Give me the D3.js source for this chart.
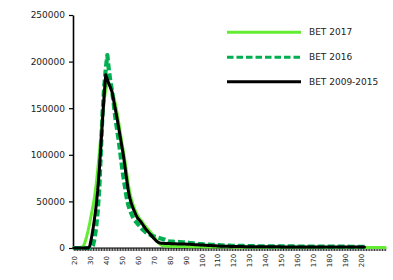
<!DOCTYPE html>
<html>
<head>
<meta charset="utf-8">
<script src="https://cdn.jsdelivr.net/npm/d3@7"></script>
<style>
html,body{margin:0;padding:0;background:#fff;}
svg{display:block;}
</style>
</head>
<body>
<svg id="chart" width="393" height="280"></svg>
<script>
// categories 20..215 (one per integer)
const categories = d3.range(20, 216);
const xTickLabels = [20,30,40,50,60,70,80,90,100,110,120,130,140,150,160,170,180,190,200];
const yTicks = [0,50000,100000,150000,200000,250000];
const seriesNames = ["BET 2017","BET 2016","BET 2009-2015"];

// BET 2017, categories 20..215
const bet2017 = [
  500,500,500,500,600,1000,2000,6000,12000,19000,
  27000,36000,45000,55000,68000,84000,102000,122000,142000,158000,
  170000,176000,177000,174000,168000,162000,155000,146000,136000,125000,
  114000,104000,94000,82000,70000,60000,53000,47000,42000,38000,
  35000,32000,30000,27500,25000,23000,21000,19000,17000,15000,
  12500,10000,7500,5500,4000,3000,2500,2200,2000,1900,
  1800,1800,1700,1700,1700,1600,1600,1600,1500,1500,
  1500,1500,1400,1400,1400,1400,1300,1300,1300,1300,
  1300,1200,1200,1200,1200,1200,1100,1100,1100,1100,
  1100,1100,1000,1000,1000,1000,1000,1000,1000,1000,
  900,900,900,900,900,900,900,900,900,900,
  900,900,900,900,900,800,800,800,800,800,
  800,800,800,800,800,800,800,800,800,800,
  800,800,800,800,800,700,700,700,700,700,
  700,700,700,700,700,700,700,700,700,700,
  700,700,700,700,700,600,600,600,600,600,
  600,600,600,600,600,600,600,600,600,600,
  600,600,600,600,600,500,500,500,500,500,
  500,500,500,500,500,500,500,500,500,500,
  500,500,500,500,500,500
];

// BET 2016, categories 20..202
const bet2016 = [
  0,0,0,0,0,0,0,0,0,0,
  0,0,3000,10000,22000,40000,65000,105000,145000,172000,
  192000,207000,190000,178000,168000,155000,140000,128000,117000,103000,
  90000,77000,66000,55000,47000,41000,37000,33000,30000,28000,
  26000,24000,22000,20000,18500,17000,16000,15000,14000,13000,
  12500,12000,11500,11000,10500,10000,9500,9000,8200,7500,
  7000,6900,6800,6700,6600,6500,6400,6300,6200,6100,
  6000,5800,5600,5400,5200,5000,4800,4600,4400,4300,
  4200,4000,3900,3800,3700,3600,3500,3400,3300,3200,
  3100,3000,2900,2800,2700,2600,2600,2500,2500,2400,
  2400,2300,2300,2300,2200,2200,2200,2100,2100,2100,
  2000,2000,2000,2000,2000,1900,1900,1900,1900,1900,
  1900,1900,1800,1800,1800,1800,1800,1800,1700,1700,
  1700,1700,1700,1700,1700,1700,1700,1700,1700,1700,
  1600,1600,1600,1600,1600,1600,1600,1600,1600,1600,
  1600,1600,1600,1500,1500,1500,1500,1500,1500,1500,
  1500,1500,1400,1400,1400,1400,1400,1400,1400,1400,
  1400,1400,1400,1300,1300,1300,1300,1300,1300,1300,
  1300,1300,1300
];

// BET 2009-2015, categories 20..202
const bet2009_2015 = [
  0,0,0,0,0,0,0,0,0,0,
  2000,10000,20000,32000,45000,62000,84000,110000,138000,164000,
  186000,181000,176000,172000,167000,158000,149000,140000,130000,120000,
  110000,100000,88000,75000,63000,54000,48000,43000,39000,35000,
  32000,30000,28000,25500,23000,20500,18500,16500,14500,12500,
  10500,8800,7200,6000,5400,5100,5000,4900,4800,4800,
  4700,4600,4600,4500,4500,4400,4400,4300,4300,4200,
  4200,4100,4000,3900,3800,3700,3600,3500,3400,3300,
  3200,3100,3000,2900,2800,2700,2600,2500,2400,2300,
  2200,2100,2000,2000,1900,1900,1800,1800,1700,1700,
  1600,1600,1600,1500,1500,1500,1500,1400,1400,1400,
  1400,1400,1300,1300,1300,1300,1300,1300,1300,1300,
  1300,1300,1300,1300,1300,1300,1300,1300,1300,1300,
  1200,1200,1200,1200,1200,1200,1200,1200,1200,1200,
  1200,1200,1200,1200,1200,1200,1200,1200,1200,1200,
  1200,1200,1200,1200,1200,1100,1100,1100,1100,1100,
  1100,1100,1100,1100,1100,1100,1100,1100,1100,1100,
  1100,1100,1100,1100,1100,1100,1100,1100,1100,1100,
  1100,1100,1100
];

const seriesData = [bet2017, bet2016, bet2009_2015];
const seriesColors = ["#62EC32", "#00B050", "#000000"];
const seriesWidths = [3, 4.2, 3];
const seriesDash = [null, "7,3", null];

const svg = d3.select("#chart");
const plotLeft = 73, plotRight = 386, plotTop = 15, plotBottom = 248;

const x = d3.scalePoint().domain(categories).range([plotLeft, plotRight]).padding(0.5);
const y = d3.scaleLinear().domain([0, 250000]).range([plotBottom, plotTop]);

// Y axis
const yAxis = d3.axisLeft(y).tickValues(yTicks).tickSize(4).tickSizeOuter(0).tickFormat(d3.format("d"));
const gy = svg.append("g").attr("transform", `translate(${plotLeft},0)`).call(yAxis);
gy.select(".domain").attr("stroke", "#000").attr("stroke-width", 1.6);
gy.selectAll(".tick line").attr("stroke", "#000").attr("stroke-width", 1.2);
gy.selectAll(".tick text").attr("font-family", "DejaVu Sans").attr("font-size", 9).attr("fill", "#222").attr("x", -8);

// X axis
const xAxis = d3.axisBottom(x).tickValues(categories).tickSize(3).tickSizeOuter(0).tickFormat(d => xTickLabels.includes(d) ? d : "");
const gx = svg.append("g").attr("transform", `translate(0,${plotBottom})`).call(xAxis);
gx.select(".domain").attr("stroke", "#000").attr("stroke-width", 1.2).attr("d", `M${plotLeft},0H${plotRight}`);
gx.selectAll(".tick line").attr("stroke", "#000").attr("stroke-width", 0.8);
gx.selectAll(".tick text")
  .attr("font-family", "DejaVu Sans").attr("font-size", 7).attr("fill", "#222")
  .attr("transform", "translate(0,12.5) rotate(-90)")
  .attr("x", 0).attr("y", 0).attr("dy", "0.35em")
  .attr("text-anchor", "middle");

// Lines
const line = d3.line().x(d => x(d[0])).y(d => y(d[1]));
seriesData.forEach((vals, i) => {
  const pts = vals.map((v, j) => [categories[j], v]);
  const p = svg.append("path").datum(pts)
    .attr("fill", "none")
    .attr("stroke", seriesColors[i])
    .attr("stroke-width", seriesWidths[i])
    .attr("stroke-linejoin", "round")
    .attr("d", line);
  if (seriesDash[i]) p.attr("stroke-dasharray", seriesDash[i]);
  else p.attr("stroke-linecap", "round");
});

// Legend
const legY = [32.3, 57.3, 81.7];
const leg = svg.append("g");
seriesNames.forEach((name, i) => {
  const l = leg.append("line")
    .attr("x1", 227).attr("x2", 301).attr("y1", legY[i]).attr("y2", legY[i])
    .attr("stroke", seriesColors[i]).attr("stroke-width", 3);
  if (seriesDash[i]) l.attr("stroke-dasharray", "6.5,3");
  leg.append("text").attr("x", 309).attr("y", legY[i]).attr("dy", "0.35em")
    .attr("font-family", "DejaVu Sans").attr("font-size", 9).attr("fill", "#222")
    .text(name);
});
</script>
</body>
</html>
